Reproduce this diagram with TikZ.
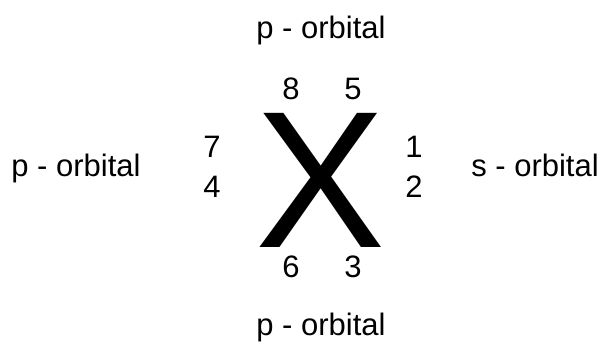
\documentclass[tikz,border=0pt]{standalone}
\usepackage{fontspec}
\setmainfont{Liberation Sans}
\begin{document}
\begin{tikzpicture}[x=1pt,y=1pt,
  lbl/.style={font=\fontsize{31}{36}\selectfont, inner sep=0pt, anchor=base},
  big/.style={font=\fontsize{195}{200}\selectfont, inner sep=0pt, anchor=base,
    text height=139pt, text depth=0pt}]
\useasboundingbox (0,0) rectangle (602,353);
\node[lbl] (ptop) at (321,314) {p - orbital};
\node[lbl] (n8) at (291,253) {8};
\node[lbl] (n5) at (353,253) {5};
\node[lbl] (n7) at (212,195) {7};
\node[lbl] (n1) at (414,195) {1};
\node[lbl] (n4) at (212,155) {4};
\node[lbl] (n2) at (414,155) {2};
\node[lbl] (n6) at (291,75) {6};
\node[lbl] (n3) at (353,75) {3};
\node[lbl] (pbot) at (321,17) {p - orbital};
\node[lbl] (pleft) at (76,176) {p - orbital};
\node[lbl] (sright) at (535,176) {s - orbital};
\node[big] (X) at (321,105) {X};
\end{tikzpicture}
\end{document}
